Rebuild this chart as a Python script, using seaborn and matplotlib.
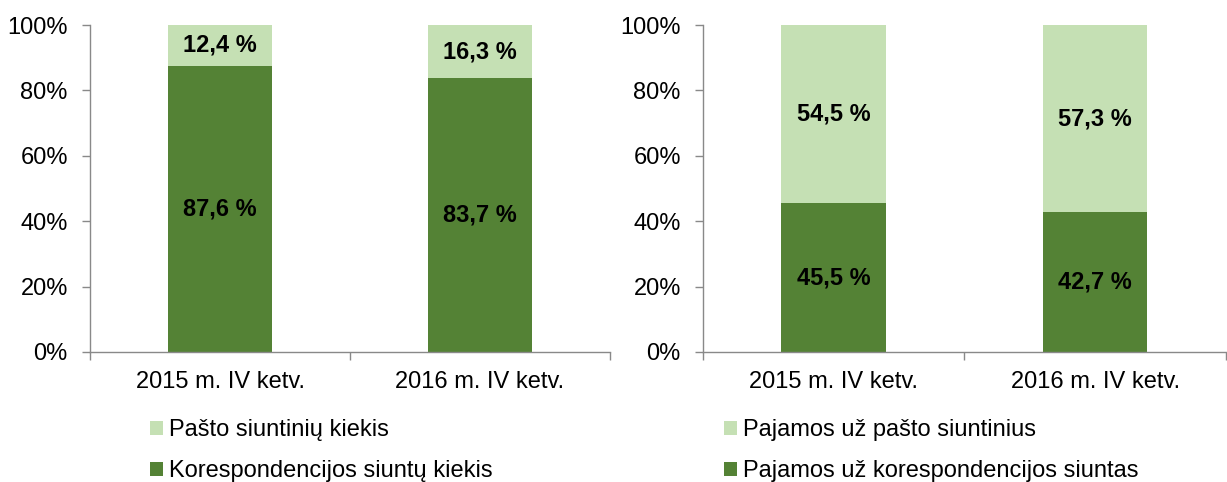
import matplotlib
matplotlib.use("Agg")
import matplotlib.pyplot as plt
import seaborn as sns
import pandas as pd
from matplotlib.patches import Patch

categories = ["2015 m. IV ketv.", "2016 m. IV ketv."]
left_dark = [87.6, 83.7]
left_light = [12.4, 16.3]
right_dark = [45.5, 42.7]
right_light = [54.5, 57.3]
left_names = ["Pašto siuntinių kiekis", "Korespondencijos siuntų kiekis"]
right_names = ["Pajamos už pašto siuntinius", "Pajamos už korespondencijos siuntas"]
yticks = [0, 20, 40, 60, 80, 100]

DARK = "#548235"
LIGHT = "#C5E0B4"
GRID = "#898989"
FS = 17

sns.set_theme(style="white")
plt.rcParams["font.family"] = ["Liberation Sans", "DejaVu Sans"]
plt.rcParams["text.color"] = "black"

fig = plt.figure(figsize=(12.27, 4.82), dpi=100)
axL = fig.add_axes([90 / 1227, 1 - 352 / 482, 520 / 1227, 327 / 482])
axR = fig.add_axes([703 / 1227, 1 - 352 / 482, 524 / 1227 - 0.001, 327 / 482])


def fmt(v):
    return f"{v:.1f}".replace(".", ",") + " %"


def draw(ax, dark, light, names, legend_x):
    df = pd.DataFrame({"cat": categories, "dark": dark, "light": light})
    df["total"] = df["dark"] + df["light"]
    sns.barplot(data=df, x="cat", y="total", color=LIGHT, saturation=1, width=0.4, ax=ax, linewidth=0)
    sns.barplot(data=df, x="cat", y="dark", color=DARK, saturation=1, width=0.4, ax=ax, linewidth=0)
    for i, (d, l) in enumerate(zip(dark, light)):
        ax.text(i, d / 2, fmt(d), ha="center", va="center", fontsize=FS, fontweight="bold", color="black")
        ax.text(i, d + l / 2, fmt(l), ha="center", va="center", fontsize=FS, fontweight="bold", color="black")
    ax.set_xlim(-0.5, 1.5)
    ax.set_ylim(0, 100)
    ax.set_yticks(yticks)
    ax.set_yticklabels([f"{t}%" for t in yticks], fontsize=FS, color="black")
    ax.set_xticks([0, 1])
    ax.set_xticklabels(categories, fontsize=FS, color="black")
    ax.set_xticks([-0.5, 0.5, 1.5], minor=True)
    ax.tick_params(axis="x", which="major", length=0, pad=14)
    ax.tick_params(axis="x", which="minor", length=6, color=GRID, width=1, direction="out", bottom=True)
    ax.tick_params(axis="y", length=6, color=GRID, width=1, direction="out", left=True, pad=10)
    ax.set_xlabel("")
    ax.set_ylabel("")
    for s in ["top", "right"]:
        ax.spines[s].set_visible(False)
    for s in ["left", "bottom"]:
        ax.spines[s].set_color(GRID)
        ax.spines[s].set_linewidth(1)
    handles = [Patch(facecolor=LIGHT, edgecolor="none", label=names[0]),
               Patch(facecolor=DARK, edgecolor="none", label=names[1])]
    leg = fig.legend(handles=handles, loc="upper left", bbox_to_anchor=(legend_x, 0.13),
                     frameon=False, fontsize=FS, handlelength=0.55, handleheight=0.55,
                     handletextpad=0.25, labelspacing=0.8, borderaxespad=0, borderpad=0)
    for t in leg.get_texts():
        t.set_color("black")


draw(axL, left_dark, left_light, left_names, 150 / 1227)
draw(axR, right_dark, right_light, right_names, 724 / 1227)

fig.savefig("out.png", dpi=100)
